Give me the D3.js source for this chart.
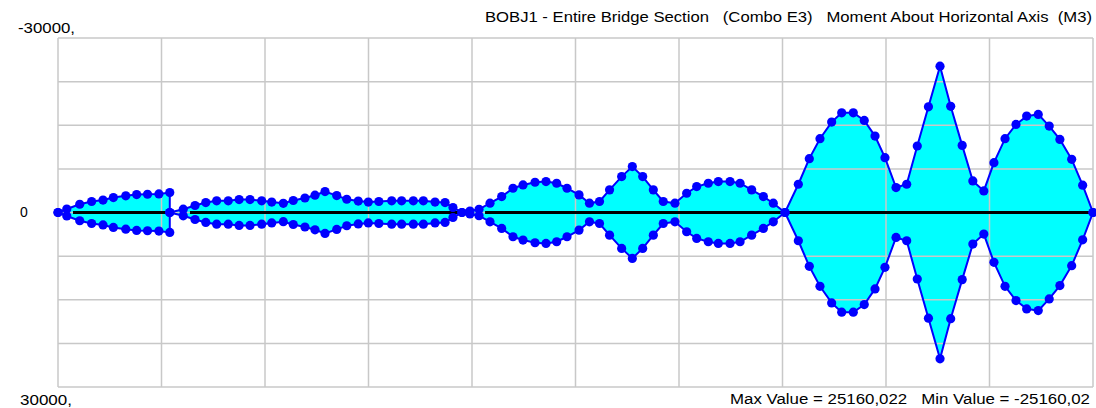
<!DOCTYPE html>
<html>
<head>
<meta charset="utf-8">
<script src="https://cdn.jsdelivr.net/npm/d3@7"></script>
<style>
  body { margin: 0; background: white; }
  text { font-family: "Liberation Sans", Arial, sans-serif; font-size: 14px; fill: black; }
</style>
</head>
<body>
<div id="chart"></div>
<script>
// stations along the bridge (4 sections), envelope of M3
const station = [
    0, 8.5, 21, 32.5, 43.5, 53.5, 65.5, 76, 86.5, 97.5, 108,
    108, 121, 132.4, 142.8, 153.3, 164.5, 175, 185.5, 196.8, 206.5, 217.7, 227.3, 238.6, 248.3,
    258, 269.3, 279, 290.1, 299.8, 310, 322.4, 332, 343.3, 353, 364.3, 374, 381.6, 390.3,
    398, 406.8, 417.4, 428.7, 439.6, 449.3, 460.9, 471.5, 481.8, 491.8, 503.4, 513.5, 523.2,
    532.9, 544.6, 554.9, 564.9, 575.2, 584.8, 596.1, 607.4, 617.1, 628.3, 638, 649.3, 659,
    670.2, 681.5, 691.1, 702.4,
    715.3, 725.9, 736.2, 747.5, 757.2, 768.4, 779, 789.4, 799, 809.7, 820, 830.2, 841, 852.2,
    862.5, 873.6, 883.9, 894.5, 904.3, 915, 925.6, 935.9, 947.1, 957.7, 968, 979.4, 990, 1000
];
const momentMax = [
    0, 600, 1420, 1890, 2140, 2570, 2860, 3090, 3140, 3200, 3430,
    0, 570, 1200, 1710, 2000, 2000, 2230, 2230, 2000, 1800, 1580, 2060, 2490, 2970,
    3600, 2910, 2280, 1970, 1800, 1890, 2000, 2000, 2000, 2000, 1800, 1710, 860, 0,
    250, 550, 1600, 2740, 4170, 4740, 5200, 5310, 5030, 4170, 3030, 1600, 1890,
    3890, 6170, 7890, 6170, 3890, 1890, 1600, 3310, 4460, 5030, 5310, 5310, 5030,
    3890, 2740, 1600, 0,
    4860, 9260, 12690, 15540, 17140, 17140, 15830, 13140, 9430, 4290, 4860, 11430, 18170, 25160.022,
    18260, 11540, 5430, 3710, 8570, 12690, 15140, 16570, 16860, 14860, 12570, 9140, 4690, 0
];
const momentMin = [
    0, -600, -1420, -1890, -2140, -2570, -2860, -3090, -3140, -3200, -3430,
    0, -570, -1200, -1710, -2000, -2000, -2230, -2230, -2000, -1800, -1580, -2060, -2490, -2970,
    -3600, -2910, -2280, -1970, -1800, -1890, -2000, -2000, -2000, -2000, -1800, -1710, -860, 0,
    -250, -550, -1600, -2740, -4170, -4740, -5200, -5310, -5030, -4170, -3030, -1600, -1890,
    -3890, -6170, -7890, -6170, -3890, -1890, -1600, -3310, -4460, -5030, -5310, -5310, -5030,
    -3890, -2740, -1600, 0,
    -4860, -9260, -12690, -15540, -17140, -17140, -15830, -13140, -9430, -4290, -4860, -11430, -18170, -25160.02,
    -18260, -11540, -5430, -3710, -8570, -12690, -15140, -16570, -16860, -14860, -12570, -9140, -4690, 0
];
// bridge members drawn at zero
const members = [[14.5, 105.3], [127.5, 388.4], [412.6, 1000]];
const xGrid = [0, 100, 200, 300, 400, 500, 600, 700, 800, 900, 1000];
const yGrid = [-30000, -22500, -15000, -7500, 0, 7500, 15000, 22500, 30000];

const width = 1096;
const height = 408;
const margin = {t: 38, b: 21, l: 58, r: 3};

const svg = d3.select("#chart")
    .append("svg")
    .attr("width", width)
    .attr("height", height)
    .attr("viewBox", [0, 0, width, height]);

const x = d3.scaleLinear().domain([0, 1000]).range([margin.l, width - margin.r]);
const y = d3.scaleLinear().domain([-30000, 30000]).range([margin.t, height - margin.b]);

const pts = station.map((s, i) => ({s: s, max: momentMax[i], min: momentMin[i]}));

// fill first, grid shows through it
svg.append("path")
    .datum(pts)
    .attr("fill", "#00ffff")
    .attr("d", d3.area().x(d => x(d.s)).y0(d => y(d.min)).y1(d => y(d.max)));

svg.append("g").selectAll("line")
    .data(xGrid).enter()
    .append("line")
    .attr("x1", d => x(d)).attr("x2", d => x(d))
    .attr("y1", margin.t).attr("y2", height - margin.b)
    .attr("stroke", "#c8c8c8")
    .attr("stroke-width", 1.5);

svg.append("g").selectAll("line")
    .data(yGrid).enter()
    .append("line")
    .attr("x1", margin.l).attr("x2", width - margin.r)
    .attr("y1", d => y(d)).attr("y2", d => y(d))
    .attr("stroke", "#c8c8c8")
    .attr("stroke-width", 1.5);

svg.append("g").selectAll("line")
    .data(members).enter()
    .append("line")
    .attr("x1", d => x(d[0])).attr("x2", d => x(d[1]))
    .attr("y1", y(0)).attr("y2", y(0))
    .attr("stroke", "black")
    .attr("stroke-width", 3);

svg.append("path")
    .datum(pts)
    .attr("fill", "none")
    .attr("stroke", "#0000ff")
    .attr("stroke-width", 2)
    .attr("d", d3.line().x(d => x(d.s)).y(d => y(d.max)));

svg.append("path")
    .datum(pts)
    .attr("fill", "none")
    .attr("stroke", "#0000ff")
    .attr("stroke-width", 2)
    .attr("d", d3.line().x(d => x(d.s)).y(d => y(d.min)));

const dots = svg.append("g").attr("fill", "#0000ff");
dots.selectAll(".pmax")
    .data(pts).enter()
    .append("circle")
    .attr("class", "pmax")
    .attr("cx", d => x(d.s)).attr("cy", d => y(d.max))
    .attr("r", 4.6);
dots.selectAll(".pmin")
    .data(pts).enter()
    .append("circle")
    .attr("class", "pmin")
    .attr("cx", d => x(d.s)).attr("cy", d => y(d.min))
    .attr("r", 4.6);

// labels
svg.append("text")
    .attr("x", 485).attr("y", 22)
    .attr("textLength", 607)
    .attr("lengthAdjust", "spacingAndGlyphs")
    .attr("xml:space", "preserve")
    .text("BOBJ1 - Entire Bridge Section   (Combo E3)   Moment About Horizontal Axis  (M3)");

svg.append("text")
    .attr("x", 18).attr("y", 33)
    .attr("textLength", 57)
    .attr("lengthAdjust", "spacingAndGlyphs")
    .text("-30000,");

svg.append("text")
    .attr("x", 20).attr("y", 217)
    .text("0");

svg.append("text")
    .attr("x", 20).attr("y", 405)
    .attr("textLength", 52)
    .attr("lengthAdjust", "spacingAndGlyphs")
    .text("30000,");

svg.append("text")
    .attr("x", 730).attr("y", 404)
    .attr("textLength", 360)
    .attr("lengthAdjust", "spacingAndGlyphs")
    .attr("xml:space", "preserve")
    .text("Max Value = 25160,022   Min Value = -25160,02");
</script>
</body>
</html>
